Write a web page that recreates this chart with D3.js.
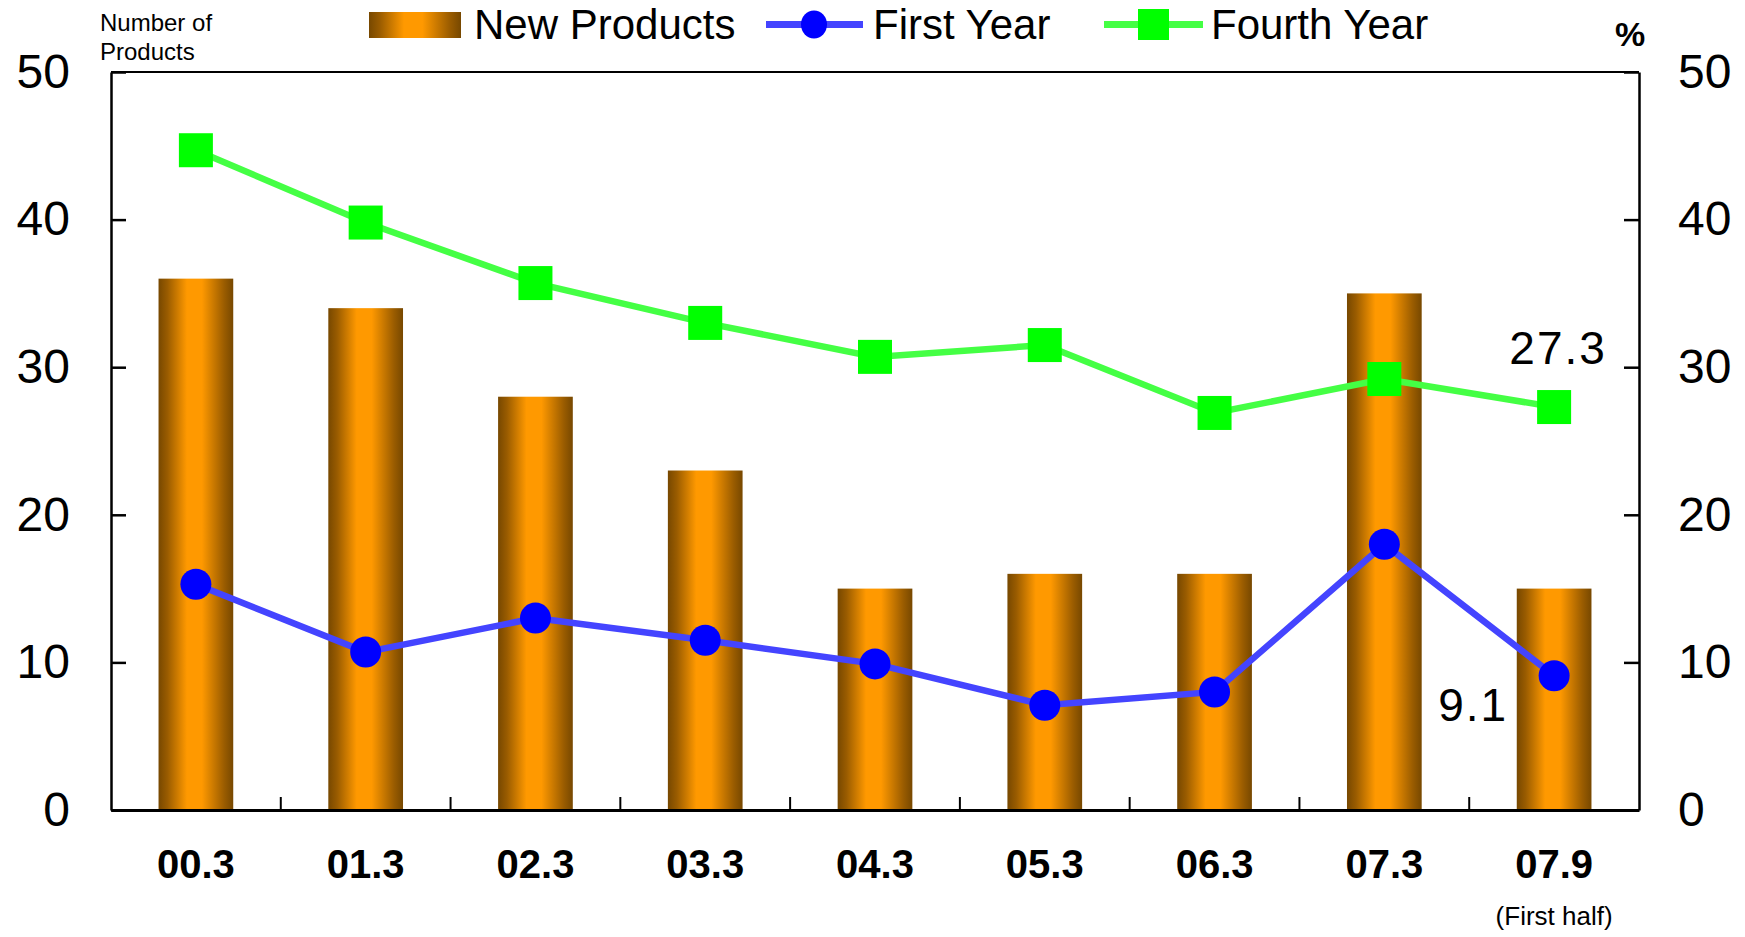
<!DOCTYPE html>
<html>
<head>
<meta charset="utf-8">
<script src="https://cdn.jsdelivr.net/npm/d3@7/dist/d3.min.js"></script>
<style>
  html, body { margin: 0; padding: 0; background: #fff; }
  svg { display: block; font-family: "Liberation Sans", Arial, sans-serif; }
</style>
</head>
<body>
<svg id="chart" width="1745" height="937"></svg>
<script>
// Period labels (fiscal year-end, "07.9" = first half)
const categories = ["00.3", "01.3", "02.3", "03.3", "04.3", "05.3", "06.3", "07.3", "07.9"];
// Number of new products launched (left axis)
const newProducts = [36, 34, 28, 23, 15, 16, 16, 35, 15];
// Share of sales, % (right axis)
const firstYear = [15.3, 10.7, 13.0, 11.5, 9.9, 7.1, 8.0, 18.0, 9.1];
const fourthYear = [44.7, 39.8, 35.7, 33.0, 30.7, 31.5, 26.9, 29.2, 27.3];
const yTicks = [0, 10, 20, 30, 40, 50];
const seriesNames = ["New Products", "First Year", "Fourth Year"];

const svg = d3.select("#chart");
const m = { left: 111, right: 1639, top: 72, bottom: 810 };

const x = d3.scaleBand().domain(categories).range([m.left, m.right])
  .paddingInner(0.56).paddingOuter(0.28);
const yL = d3.scaleLinear().domain([0, 50]).range([m.bottom, m.top]);
const yR = d3.scaleLinear().domain([0, 50]).range([m.bottom, m.top]);
const cx = d => x(d) + x.bandwidth() / 2;

// Cylinder-like horizontal shading for the bars
const defs = svg.append("defs");
const grad = defs.append("linearGradient").attr("id", "barGrad")
  .attr("x1", "0%").attr("x2", "100%").attr("y1", "0%").attr("y2", "0%");
[[0, "#774800"], [0.12, "#9a5c00"], [0.38, "#ff9900"], [0.58, "#ff9900"], [0.88, "#9a5c00"], [1, "#774800"]]
  .forEach(([o, c]) => grad.append("stop").attr("offset", o).attr("stop-color", c));

// Bars
svg.append("g").selectAll("rect").data(newProducts).join("rect")
  .attr("x", (d, i) => x(categories[i]))
  .attr("width", x.bandwidth())
  .attr("y", d => yL(d))
  .attr("height", d => yL(0) - yL(d))
  .attr("fill", "url(#barGrad)");

// Frame
const frame = svg.append("g").attr("stroke", "#000").attr("fill", "none");
frame.append("line").attr("x1", m.left).attr("x2", m.right).attr("y1", m.top).attr("y2", m.top).attr("stroke-width", 2);

// Left axis
const axL = svg.append("g").attr("transform", `translate(${m.left},0)`)
  .call(d3.axisLeft(yL).tickValues(yTicks).tickSizeInner(-15).tickSizeOuter(0).tickPadding(41));
// Right axis
const axR = svg.append("g").attr("transform", `translate(${m.right},0)`)
  .call(d3.axisRight(yR).tickValues(yTicks).tickSizeInner(-15).tickSizeOuter(0).tickPadding(39));
[axL, axR].forEach(a => {
  a.select(".domain").attr("stroke-width", 2.5);
  a.selectAll(".tick line").attr("stroke-width", 2.5);
  a.selectAll(".tick text").attr("font-size", 48).attr("fill", "#000")
    .attr("font-family", "'Liberation Sans', Arial, sans-serif");
});

// Bottom axis with labels at category centres
const axB = svg.append("g").attr("transform", `translate(0,${m.bottom})`)
  .call(d3.axisBottom(x).tickSize(0).tickPadding(40));
axB.select(".domain").attr("stroke-width", 3);
axB.selectAll(".tick text").attr("font-size", 40).attr("font-weight", "bold").attr("fill", "#000")
  .attr("font-family", "'Liberation Sans', Arial, sans-serif");
// Tick marks between categories
const step = x.step();
svg.append("g").selectAll("line").data(categories.slice(0, -1)).join("line")
  .attr("x1", d => cx(d) + step / 2).attr("x2", d => cx(d) + step / 2)
  .attr("y1", m.bottom).attr("y2", m.bottom - 13)
  .attr("stroke", "#000").attr("stroke-width", 2);

// Sub-label under the last period
svg.append("text").attr("x", cx("07.9")).attr("y", 925).attr("text-anchor", "middle")
  .attr("font-size", 26).text("(First half)");

// Lines
const lineFn = y => d3.line().x((d, i) => cx(categories[i])).y(d => y(d));
svg.append("path").datum(fourthYear).attr("d", lineFn(yR))
  .attr("fill", "none").attr("stroke", "#44ff44").attr("stroke-width", 6.5);
svg.append("path").datum(firstYear).attr("d", lineFn(yR))
  .attr("fill", "none").attr("stroke", "#4444ff").attr("stroke-width", 6.5);

// Markers
const sq = 34;
svg.append("g").selectAll("rect").data(fourthYear).join("rect")
  .attr("x", (d, i) => cx(categories[i]) - sq / 2).attr("y", d => yR(d) - sq / 2)
  .attr("width", sq).attr("height", sq).attr("fill", "#00ff00");
svg.append("g").selectAll("circle").data(firstYear).join("circle")
  .attr("cx", (d, i) => cx(categories[i])).attr("cy", d => yR(d))
  .attr("r", 15.5).attr("fill", "#0000ff");

// Value labels for the latest period
const last = categories.length - 1;
svg.append("text").attr("x", cx(categories[last]) + 4).attr("y", yR(fourthYear[last]) - 43)
  .attr("text-anchor", "middle").attr("font-size", 46).attr("letter-spacing", 2)
  .text(fourthYear[last].toFixed(1));
svg.append("text").attr("x", cx(categories[last]) - 46).attr("y", yR(firstYear[last]) + 45)
  .attr("text-anchor", "end").attr("font-size", 46).attr("letter-spacing", 2)
  .text(firstYear[last].toFixed(1));

// Axis titles
const t = svg.append("text").attr("font-size", 24);
t.append("tspan").attr("x", 100).attr("y", 31).text("Number of");
t.append("tspan").attr("x", 100).attr("y", 60).text("Products");
svg.append("text").attr("x", 1630).attr("y", 46).attr("text-anchor", "middle")
  .attr("font-size", 34).attr("font-weight", "bold").text("%");

// Legend
const lg = svg.append("g");
lg.append("rect").attr("x", 369).attr("y", 12).attr("width", 92).attr("height", 26).attr("fill", "url(#barGrad)");
lg.append("text").attr("x", 474).attr("y", 39).attr("font-size", 42).text(seriesNames[0]);
lg.append("line").attr("x1", 766).attr("x2", 863).attr("y1", 24.5).attr("y2", 24.5)
  .attr("stroke", "#4444ff").attr("stroke-width", 7);
lg.append("ellipse").attr("cx", 814).attr("cy", 24.5).attr("rx", 13).attr("ry", 14).attr("fill", "#0000ff");
lg.append("text").attr("x", 873).attr("y", 39).attr("font-size", 42).text(seriesNames[1]);
lg.append("line").attr("x1", 1104).attr("x2", 1203).attr("y1", 24.5).attr("y2", 24.5)
  .attr("stroke", "#44ff44").attr("stroke-width", 7);
lg.append("rect").attr("x", 1138).attr("y", 9).attr("width", 31).attr("height", 31).attr("fill", "#00ff00");
lg.append("text").attr("x", 1211).attr("y", 39).attr("font-size", 42).text(seriesNames[2]);
</script>
</body>
</html>
